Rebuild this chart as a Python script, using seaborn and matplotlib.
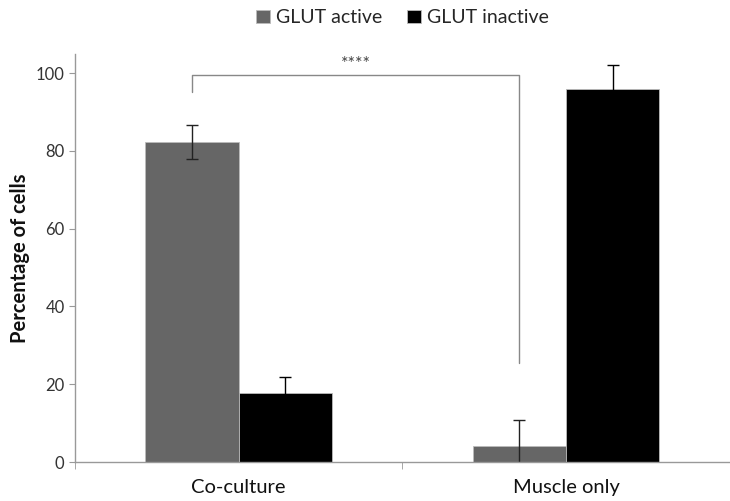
import pandas as pd
import numpy as np
import matplotlib
matplotlib.use('Agg')
import matplotlib.pyplot as plt
import seaborn as sns

# Data
conditions = ['Co-culture', 'Muscle only']
groups = ['GLUT active', 'GLUT inactive']
active_pct = [82.3, 4.1]
inactive_pct = [17.7, 95.9]
active_err = [4.3, 6.7]
inactive_err = [4.2, 6.2]

df = pd.DataFrame({
    'condition': conditions * 2,
    'group': [groups[0]] * 2 + [groups[1]] * 2,
    'pct': active_pct + inactive_pct,
})
errs = {groups[0]: active_err, groups[1]: inactive_err}
err_colors = {groups[0]: '#222222', groups[1]: '#000000'}

sns.set_style('white')
plt.rcParams['font.family'] = ['Lato', 'DejaVu Sans']

fig = plt.figure(figsize=(7.3, 5.01), dpi=100)
ax = fig.add_axes([0.1027, 0.0778, 0.897, 0.815])

sns.barplot(data=df, x='condition', y='pct', hue='group', order=conditions,
            hue_order=groups, palette=['#666666', '#000000'], width=0.57,
            errorbar=None, saturation=1, ax=ax, legend=True,
            edgecolor='#bbbbbb', linewidth=0.6)

# Error bars at the bar centres
for cont, g in zip(ax.containers, groups):
    xs = [b.get_x() + b.get_width() / 2 for b in cont]
    ys = [b.get_height() for b in cont]
    ax.errorbar(xs, ys, yerr=errs[g], fmt='none', ecolor=err_colors[g],
                elinewidth=1, capsize=4, capthick=1)

ax.set_xlim(-0.5, 1.5)
ax.set_ylim(0, 105)
ax.set_yticks(np.arange(0, 101, 20))
ax.set_xlabel('')
ax.set_ylabel('Percentage of cells', fontsize=14.5, fontweight='bold', color='#111111')

for s in ['top', 'right']:
    ax.spines[s].set_visible(False)
for s in ['left', 'bottom']:
    ax.spines[s].set_color('#999999')
    ax.spines[s].set_linewidth(1)

ax.tick_params(axis='y', left=True, length=4, color='#999999', labelsize=12, labelcolor='#333333')
ax.tick_params(axis='x', bottom=False, labelsize=14.5, labelcolor='#111111', pad=9)
ax.set_xticks([-0.5, 0.5, 1.5], minor=True)
ax.tick_params(axis='x', which='minor', bottom=True, length=5, color='#999999')

# Significance bracket
c0 = ax.containers[0]
x_left = c0[0].get_x() + c0[0].get_width() / 2
x_right = c0[1].get_x() + c0[1].get_width() / 2
ax.plot([x_left, x_left, x_right, x_right], [95.2, 99.5, 99.5, 25.5],
        color='#888888', lw=1, clip_on=False)
ax.text((x_left + x_right) / 2, 100.2, '****', ha='center', va='bottom',
        fontsize=13, color='#444444')

leg = ax.legend(loc='center', bbox_to_anchor=(0.5, 1.088), ncol=2, frameon=False,
                fontsize=14, handlelength=0.7, handleheight=0.7, handletextpad=0.3,
                columnspacing=1.3)

plt.savefig('out.png', dpi=100)
plt.close()
